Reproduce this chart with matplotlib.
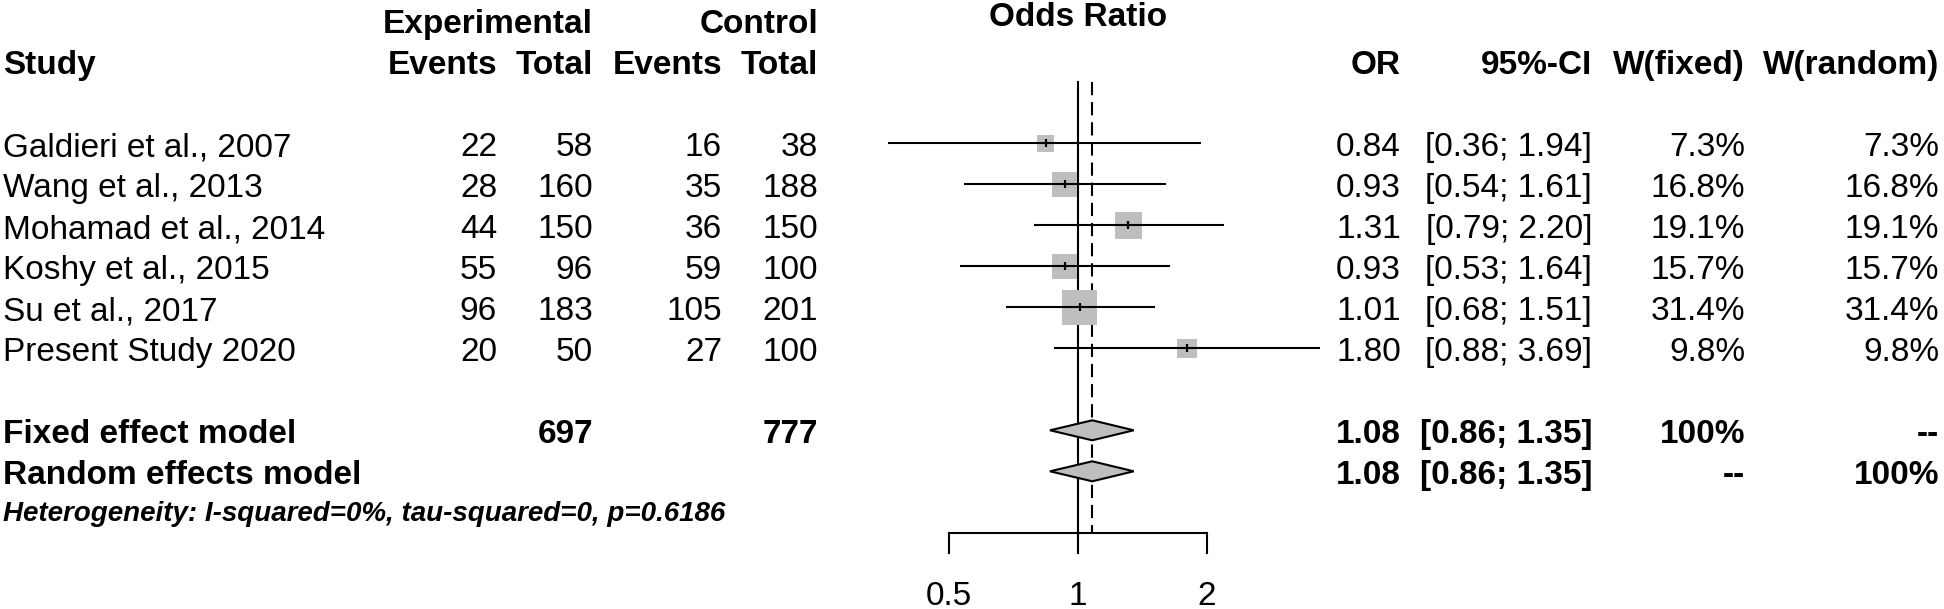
import matplotlib
matplotlib.use("Agg")
import matplotlib.pyplot as plt
import numpy as np
from matplotlib.patches import Polygon

plt.rcParams['font.family'] = ['Liberation Sans', 'DejaVu Sans']
plt.rcParams['lines.scale_dashes'] = False

# ---------------- data ----------------
studies = ["Galdieri et al., 2007", "Wang et al., 2013", "Mohamad et al., 2014",
           "Koshy et al., 2015", "Su et al., 2017", "Present Study 2020"]
exp_events = [22, 28, 44, 55, 96, 20]
exp_total = [58, 160, 150, 96, 183, 50]
ctrl_events = [16, 35, 36, 59, 105, 27]
ctrl_total = [38, 188, 150, 100, 201, 100]
odds_ratio = [0.84, 0.93, 1.31, 0.93, 1.01, 1.80]
ci_lower = [0.36, 0.54, 0.79, 0.53, 0.68, 0.88]
ci_upper = [1.94, 1.61, 2.20, 1.64, 1.51, 3.69]
w_fixed = [7.3, 16.8, 19.1, 15.7, 31.4, 9.8]
w_random = [7.3, 16.8, 19.1, 15.7, 31.4, 9.8]

model_labels = ["Fixed effect model", "Random effects model"]
pooled_or = [1.08, 1.08]
pooled_lower = [0.86, 0.86]
pooled_upper = [1.35, 1.35]
pooled_w_fixed = ["100%", "--"]
pooled_w_random = ["--", "100%"]
total_exp = 697
total_ctrl = 777
x_ticks = [0.5, 1, 2]
x_tick_labels = ["0.5", "1", "2"]
het_text = "Heterogeneity: I-squared=0%, tau-squared=0, p=0.6186"

# ---------------- layout (pixels) ----------------
W, H, DPI = 1944, 609, 100
ROW0 = 143.3
ROW_H = 41.0
BASE = 13.0 / ROW_H          # baseline offset below row centre
X_REF = 1078.0               # pixel of OR = 1
PX_LOG2 = 128.7              # pixels per doubling
F_LEFT, F_RIGHT = 850.0, 1340.0

C_STUDY = 3
C_EEV, C_ETOT, C_CEV, C_CTOT = 497, 593, 722, 818
C_OR, C_CI, C_WF, C_WR = 1401, 1592, 1745, 1939
FS = 24
GRAY = "#BEBEBE"
LW = 1.5

def prow(px):
    return (px - ROW0) / ROW_H

fig = plt.figure(figsize=(W / DPI, H / DPI), dpi=DPI)
ylim = (prow(H), prow(0))

tax = fig.add_axes([0, 0, 1, 1])
tax.set_xlim(0, W)
tax.set_ylim(*ylim)
tax.axis("off")

fax = fig.add_axes([F_LEFT / W, 0, (F_RIGHT - F_LEFT) / W, 1])
fax.set_xscale("log", base=2)
fax.set_xlim(2 ** ((F_LEFT - X_REF) / PX_LOG2), 2 ** ((F_RIGHT - X_REF) / PX_LOG2))
fax.set_ylim(*ylim)
fax.axis("off")
fax.patch.set_alpha(0)

def txt(x, row, s, ha="right", bold=False, **kw):
    tax.text(x, row + BASE, s, ha=ha, va="baseline", fontsize=FS,
             fontweight="bold" if bold else "normal", **kw)

# headers
txt(C_ETOT, -3, "Experimental", bold=True)
txt(C_CTOT, -3, "Control", bold=True)
txt(C_STUDY, -2, "Study", ha="left", bold=True)
for x, s in [(C_EEV, "Events"), (C_ETOT, "Total"), (C_CEV, "Events"), (C_CTOT, "Total"),
             (C_OR, "OR"), (C_CI, "95%-CI"), (C_WF, "W(fixed)"), (C_WR, "W(random)")]:
    txt(x, -2, s, bold=True)
fax.text(1, prow(26), "Odds Ratio", ha="center", va="baseline", fontsize=FS, fontweight="bold")

# study rows
rows = np.arange(len(studies))
for i in rows:
    txt(C_STUDY, i, studies[i], ha="left")
    txt(C_EEV, i, str(exp_events[i]))
    txt(C_ETOT, i, str(exp_total[i]))
    txt(C_CEV, i, str(ctrl_events[i]))
    txt(C_CTOT, i, str(ctrl_total[i]))
    txt(C_OR, i, f"{odds_ratio[i]:.2f}")
    txt(C_CI, i, f"[{ci_lower[i]:.2f}; {ci_upper[i]:.2f}]")
    txt(C_WF, i, f"{w_fixed[i]:.1f}%")
    txt(C_WR, i, f"{w_random[i]:.1f}%")

# pooled rows
for j, lab in enumerate(model_labels):
    r = len(studies) + 1 + j
    txt(C_STUDY, r, lab, ha="left", bold=True)
    if j == 0:
        txt(C_ETOT, r, str(total_exp), bold=True)
        txt(C_CTOT, r, str(total_ctrl), bold=True)
    txt(C_OR, r, f"{pooled_or[j]:.2f}", bold=True)
    txt(C_CI, r, f"[{pooled_lower[j]:.2f}; {pooled_upper[j]:.2f}]", bold=True)
    txt(C_WF, r, pooled_w_fixed[j], bold=True)
    txt(C_WR, r, pooled_w_random[j], bold=True)

het_row = len(studies) + 3
tax.text(C_STUDY, prow(521), het_text, ha="left", va="baseline", fontsize=20,
         fontweight="bold", fontstyle="italic")

# ---------------- forest ----------------
axis_row = het_row + 0.5
top_row = -1.5
fax.plot([1, 1], [top_row, axis_row], color="black", lw=LW, zorder=1)
fax.plot([pooled_or[0]] * 2, [top_row, axis_row], color="black", lw=LW,
         dashes=(9.5, 5), zorder=1)

sizes = (6.2 * np.sqrt(np.array(w_fixed)) * 0.72) ** 2
fax.scatter(odds_ratio, rows, marker="s", s=sizes, color=GRAY, linewidths=0, zorder=2)
for i in rows:
    fax.plot([ci_lower[i], ci_upper[i]], [i, i], color="black", lw=LW, zorder=3,
             solid_capstyle="butt")
fax.plot(odds_ratio, rows, linestyle="none", marker="|", markersize=6,
         markeredgewidth=1.6, color="black", zorder=4)

dh = 10.0 / ROW_H
for j in range(len(model_labels)):
    r = len(studies) + 1 + j
    poly = Polygon([[pooled_lower[j], r], [pooled_or[j], r - dh],
                    [pooled_upper[j], r], [pooled_or[j], r + dh]],
                   closed=True, facecolor=GRAY, edgecolor="black", lw=LW, zorder=5)
    fax.add_patch(poly)

# axis
fax.plot([x_ticks[0], x_ticks[-1]], [axis_row, axis_row], color="black", lw=LW,
         solid_capstyle="projecting", zorder=1)
tick_end = prow(553)
for t, lab in zip(x_ticks, x_tick_labels):
    fax.plot([t, t], [axis_row, tick_end], color="black", lw=LW, zorder=1)
    fax.text(t, prow(605), lab, ha="center", va="baseline", fontsize=FS)

fig.savefig("out.png", dpi=DPI)
